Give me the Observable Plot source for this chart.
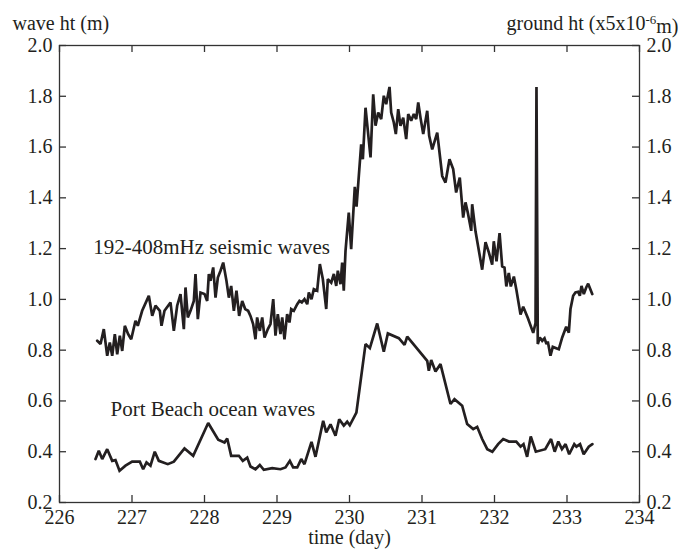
<!DOCTYPE html>
<html>
<head>
<meta charset="utf-8">
<script src="https://cdn.jsdelivr.net/npm/d3@7"></script>
<script src="https://cdn.jsdelivr.net/npm/@observablehq/plot@0.6"></script>
<style>
  html, body { margin: 0; padding: 0; background: #fff; }
  #chart { width: 681px; height: 550px; }
  #chart svg, #chart svg text { font-family: "Liberation Serif", "DejaVu Serif", "Times New Roman", Times, serif !important; }
</style>
</head>
<body>
<div id="chart"></div>
<script>
// ---- data ----
const seismicDay = [
  226.52,226.566,226.611,226.658,226.694,226.727,226.763,226.796,226.832,226.865,
  226.901,226.947,226.989,227.048,227.08,227.14,227.232,227.279,227.324,227.384,
  227.407,227.448,227.531,227.577,227.623,227.669,227.715,227.738,227.77,227.807,
  227.853,227.876,227.908,227.945,228.0,228.037,228.06,228.083,228.12,228.152,
  228.184,228.221,228.258,228.303,228.336,228.368,228.405,228.441,228.478,228.52,
  228.561,228.602,228.634,228.671,228.703,228.726,228.763,228.796,228.828,228.874,
  228.91,228.948,228.979,229.011,229.048,229.072,229.103,229.14,229.172,229.196,
  229.232,229.279,229.31,229.342,229.379,229.417,229.439,229.476,229.508,229.554,
  229.591,229.632,229.679,229.701,229.748,229.784,229.817,229.839,229.876,229.899,
  229.921,229.945,229.99,230.023,230.073,230.097,230.161,230.184,230.221,230.29,
  230.327,230.359,230.396,230.437,230.473,230.506,230.552,230.575,230.611,230.639,
  230.672,230.703,230.741,230.782,230.81,230.851,230.887,230.92,230.948,230.979,
  231.017,231.072,231.099,231.141,231.21,231.279,231.324,231.379,231.43,231.471,
  231.521,231.568,231.6,231.632,231.679,231.692,231.738,231.83,231.876,231.922,
  231.968,231.99,232.028,232.07,232.106,232.138,232.163,232.197,232.225,232.267,
  232.303,232.359,232.396,232.46,232.534,232.566,232.579,232.597,232.625,232.658,
  232.69,232.717,232.735,232.772,232.804,232.887,232.934,232.989,233.025,233.048,
  233.085,233.117,233.154,233.177,233.2,233.232,233.265,233.292,233.348
];
const seismicHt = [
  0.837,0.824,0.883,0.778,0.830,0.778,0.863,0.784,0.857,0.797,
  0.896,0.863,0.843,0.916,0.896,0.955,1.014,0.935,0.975,0.955,
  0.896,0.955,0.988,0.876,0.975,1.021,0.883,1.047,0.929,0.955,
  0.994,1.100,0.922,1.027,1.021,0.994,1.100,1.073,1.126,1.007,
  1.086,1.113,1.145,1.073,1.007,1.053,0.955,1.034,0.935,0.994,
  0.962,0.955,0.935,0.903,0.843,0.929,0.876,0.929,0.850,0.883,
  0.903,1.001,0.857,0.942,0.863,0.929,0.843,0.942,0.909,0.962,
  0.955,0.981,0.994,0.988,1.001,0.981,1.027,1.001,1.040,1.034,
  1.139,1.080,0.962,1.080,1.066,1.100,1.053,1.113,1.060,1.145,
  1.034,1.191,1.342,1.198,1.443,1.365,1.611,1.552,1.755,1.559,
  1.808,1.684,1.736,1.710,1.802,1.769,1.837,1.736,1.697,1.651,
  1.749,1.684,1.716,1.631,1.730,1.704,1.730,1.710,1.776,1.716,
  1.651,1.743,1.644,1.591,1.657,1.486,1.460,1.552,1.513,1.421,
  1.480,1.322,1.382,1.341,1.270,1.375,1.268,1.117,1.225,1.185,
  1.137,1.229,1.150,1.261,1.130,1.125,1.051,1.104,1.051,1.090,
  1.036,0.940,0.971,0.927,0.868,0.907,1.837,0.824,0.850,0.837,
  0.847,0.824,0.834,0.778,0.813,0.804,0.850,0.892,0.869,0.962,
  1.014,1.027,1.030,1.014,1.053,1.021,1.047,1.062,1.021
];
const oceanDay = [
  226.497,226.542,226.589,226.658,226.727,226.772,226.828,226.91,227.002,227.108,
  227.154,227.2,227.255,227.314,227.37,227.494,227.577,227.724,227.844,228.051,
  228.189,228.276,228.313,228.368,228.474,228.528,228.589,228.634,228.703,228.763,
  228.818,228.934,229.048,229.117,229.177,229.223,229.279,229.334,229.379,229.476,
  229.531,229.637,229.679,229.738,229.807,229.858,229.921,229.968,230.004,230.095,
  230.221,230.281,230.382,230.473,230.529,230.68,230.759,230.796,231.072,231.094,
  231.127,231.186,231.255,231.393,231.448,231.554,231.623,231.706,231.761,231.83,
  231.9,231.97,232.05,232.12,232.2,232.3,232.36,232.4,232.45,232.5,
  232.57,232.7,232.78,232.83,232.88,232.93,232.98,233.03,233.1,233.13,
  233.18,233.23,233.3,233.35
];
const oceanHt = [
  0.371,0.404,0.371,0.410,0.364,0.367,0.325,0.345,0.361,0.361,
  0.331,0.358,0.345,0.400,0.364,0.351,0.361,0.413,0.384,0.513,
  0.447,0.436,0.452,0.384,0.384,0.364,0.377,0.342,0.331,0.348,
  0.329,0.335,0.331,0.338,0.364,0.338,0.338,0.371,0.351,0.439,
  0.380,0.522,0.476,0.508,0.463,0.528,0.503,0.518,0.504,0.554,
  0.824,0.808,0.905,0.794,0.866,0.847,0.821,0.853,0.758,0.719,
  0.761,0.716,0.745,0.588,0.607,0.581,0.509,0.489,0.498,0.450,
  0.41,0.40,0.43,0.45,0.44,0.44,0.42,0.43,0.38,0.46,
  0.40,0.41,0.45,0.40,0.44,0.41,0.43,0.39,0.43,0.42,
  0.43,0.39,0.42,0.43
];
const xTicks = [226, 227, 228, 229, 230, 231, 232, 233, 234];
const yTicks = [0.2, 0.4, 0.6, 0.8, 1.0, 1.2, 1.4, 1.6, 1.8, 2.0];
const seriesLabels = ["192-408mHz seismic waves", "Port Beach ocean waves"];
const leftTitle = "wave ht (m)";
const rightTitle = "ground ht (x5x10-6m)";
const xTitle = "time (day)";

const seismic = seismicDay.map((d, i) => ({day: d, ht: seismicHt[i]}));
const ocean = oceanDay.map((d, i) => ({day: d, ht: oceanHt[i]}));

// ---- layout ----
const W = 681, H = 550;
const mL = 59, mR = 42, mT = 45, mB = 48;
const fw = W - mL - mR, fh = H - mT - mB;
const ink = "#231f20";
const axisInk = "#333";
const tickLen = 7;
const font = "Liberation Serif, DejaVu Serif, Times New Roman, Times, serif";

const plot = Plot.plot({
  width: W,
  height: H,
  marginLeft: mL,
  marginRight: mR,
  marginTop: mT,
  marginBottom: mB,
  style: {fontSize: "20px", color: ink, background: "#fff"},
  x: {domain: [226, 234]},
  y: {domain: [0.2, 2.0]},
  marks: [
    Plot.frame({stroke: axisInk, strokeWidth: 1.3}),
    // inward ticks
    Plot.ruleX(xTicks, {x: d => d, stroke: axisInk, strokeWidth: 1.3, insetTop: fh - tickLen}),
    Plot.ruleX(xTicks, {x: d => d, stroke: axisInk, strokeWidth: 1.3, insetBottom: fh - tickLen}),
    Plot.ruleY(yTicks, {y: d => d, stroke: axisInk, strokeWidth: 1.3, insetRight: fw - tickLen}),
    Plot.ruleY(yTicks, {y: d => d, stroke: axisInk, strokeWidth: 1.3, insetLeft: fw - tickLen}),
    // tick labels
    Plot.axisX({ticks: xTicks, tickSize: 0, tickPadding: 7, tickFormat: d => String(d), label: null, fontSize: 20}),
    Plot.axisY({ticks: yTicks, anchor: "left", tickSize: 0, tickPadding: 7, tickFormat: d3.format(".1f"), label: null, fontSize: 20}),
    Plot.axisY({ticks: yTicks, anchor: "right", tickSize: 0, tickPadding: 7, tickFormat: d3.format(".1f"), label: null, fontSize: 20}),
    // data lines
    Plot.line(ocean, {x: "day", y: "ht", stroke: ink, strokeWidth: 2.7, strokeLinejoin: "miter", strokeMiterlimit: 2}),
    Plot.line(seismic, {x: "day", y: "ht", stroke: ink, strokeWidth: 2.7, strokeLinejoin: "miter", strokeMiterlimit: 2}),
    // series annotations
    Plot.text([seriesLabels[0]], {x: 226.465, y: 1.207, text: d => d, textAnchor: "start", fontSize: 21, fill: ink}),
    Plot.text([seriesLabels[1]], {x: 226.703, y: 0.568, text: d => d, textAnchor: "start", fontSize: 21, fill: ink}),
    // titles
    Plot.text([leftTitle], {frameAnchor: "top-left", text: d => d, textAnchor: "start", dx: -47, dy: -30, fontSize: 20, fill: ink}),
    Plot.text([rightTitle], {frameAnchor: "top-right", text: d => d, textAnchor: "end", dx: 39, dy: -30, fontSize: 20, fill: ink}),
    Plot.text([xTitle], {frameAnchor: "bottom", text: d => d, dy: 41, fontSize: 20, fill: ink})
  ]
});

document.getElementById("chart").appendChild(plot);

// force the serif face everywhere
d3.select(plot).attr("font-family", font);
d3.select(plot).selectAll("[font-family]").attr("font-family", font);
d3.select(plot).selectAll("text").attr("font-family", font);

// superscript for the exponent in the right title
d3.select(plot).selectAll("text").each(function() {
  const t = d3.select(this);
  if (t.text() === rightTitle) {
    t.text(null);
    t.append("tspan").text("ground ht (x5x10");
    t.append("tspan").attr("dy", "-0.45em").attr("font-size", "13px").text("-6");
    t.append("tspan").attr("dy", "0.45em").text("m)");
  }
});
</script>
</body>
</html>
